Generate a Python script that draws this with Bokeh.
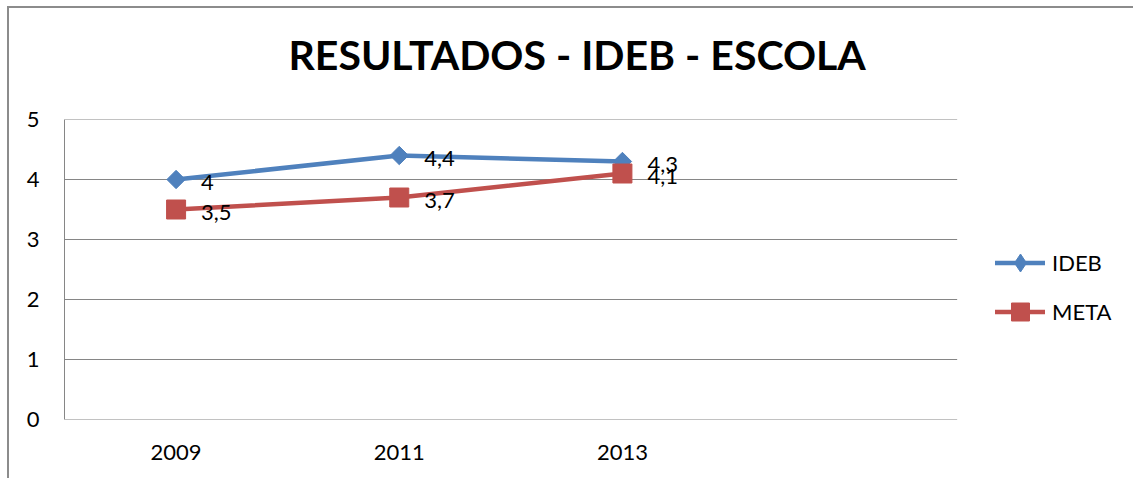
from bokeh.plotting import figure
from bokeh.models import (Range1d, FixedTicker, ColumnDataSource, LabelSet,
                          Legend, LegendItem, Title)
from bokeh.embed import file_html
from bokeh.resources import INLINE
from bokeh.core.properties import value

# ---- data ----
years = ["2009", "2011", "2013"]
ideb = [4.0, 4.4, 4.3]
meta = [3.5, 3.7, 4.1]
y_ticks = [0, 1, 2, 3, 4, 5]
n_slots = 4            # Excel category axis has one empty slot after 2013

def fmt(v):
    s = ("%g" % v)
    return s.replace(".", ",")

xs = list(range(len(years)))
src_ideb = ColumnDataSource(dict(x=xs, y=ideb, t=[fmt(v) for v in ideb]))
src_meta = ColumnDataSource(dict(x=xs, y=meta, t=[fmt(v) for v in meta]))
src_grid = ColumnDataSource(dict(x0=[-0.5] * len(y_ticks),
                                 x1=[n_slots - 0.5] * len(y_ticks),
                                 y=y_ticks))

BLUE = "#4F81BD"
RED = "#C0504D"
GRAY = "#868686"
FONT = "Lato"

# layout (pixels)
W, H = 1126, 472
LEFT, TOP, BOTTOM = 55, 111, 61
frame_w = (W - 2) - LEFT
slot_px = 891 / n_slots
x_end = -0.5 + frame_w / slot_px

p = figure(width=W, height=H, output_backend="svg", toolbar_location=None,
           x_range=Range1d(-0.5, x_end), y_range=Range1d(0, 5),
           min_border_left=LEFT, min_border_right=0, min_border_top=TOP,
           min_border_bottom=BOTTOM)
p.styles = {"margin-left": "7px", "margin-top": "6px",
            "border-left": "2px solid #8c8c8c", "border-top": "2px solid #8c8c8c"}

# spacer between title and frame, then the title itself
p.add_layout(Title(text=" ", text_font_size="1px", standoff=38), "above")
p.add_layout(Title(text="RESULTADOS - IDEB - ESCOLA", text_font=FONT,
                   text_font_size="41px", text_font_style="bold",
                   text_color="black", align="left", offset=224, standoff=0),
             "above")

p.outline_line_color = None
p.background_fill_color = "white"
p.border_fill_color = "white"

# axes
p.xaxis.ticker = FixedTicker(ticks=xs)
p.xaxis.major_label_overrides = {i: y for i, y in enumerate(years)}
p.yaxis.ticker = FixedTicker(ticks=y_ticks)
for ax in (p.xaxis, p.yaxis):
    ax.axis_line_color = GRAY
    ax.axis_line_width = 1
    ax.major_tick_line_color = None
    ax.minor_tick_line_color = None
    ax.major_tick_out = 0
    ax.major_tick_in = 0
    ax.major_label_text_font = FONT
    ax.major_label_text_font_size = "22px"
    ax.major_label_text_color = "black"
p.xaxis.axis_line_color = None
p.xaxis.major_label_standoff = 25
p.yaxis.major_label_standoff = 25

p.xgrid.grid_line_color = None
p.ygrid.grid_line_color = None
p.segment(x0="x0", x1="x1", y0="y", y1="y", source=src_grid,
          line_color=GRAY, line_width=1)

# series
l1 = p.line("x", "y", source=src_ideb, line_color=BLUE, line_width=4.5,
            line_join="round", line_cap="round")
m1 = p.scatter("x", "y", source=src_ideb, marker="square", size=13, angle=0.785398,
               fill_color=BLUE, line_color=BLUE)
l2 = p.line("x", "y", source=src_meta, line_color=RED, line_width=4.5,
            line_join="round", line_cap="round")
m2 = p.scatter("x", "y", source=src_meta, marker="square", size=19,
               fill_color=RED, line_color=RED)
# diamond used only for the legend swatch (hidden in the plot)
leg_d = p.scatter("x", "y", source=src_ideb, marker="diamond", size=13,
                  fill_color=BLUE, line_color=BLUE, visible=False)

for src in (src_ideb, src_meta):
    p.add_layout(LabelSet(x="x", y="y", text="t", source=src, x_offset=25, y_offset=-3,
                          text_font=value(FONT), text_font_size="22px",
                          text_baseline="middle", text_align="left",
                          text_color="black"))

legend = Legend(items=[LegendItem(label="IDEB", renderers=[l1, leg_d]),
                       LegendItem(label="META", renderers=[l2, m2])],
                location=(931, 85), orientation="vertical",
                glyph_width=50, glyph_height=45, label_height=20,
                spacing=4, padding=0, margin=0, label_standoff=7,
                border_line_color=None, background_fill_alpha=0,
                inactive_fill_alpha=0,
                label_text_font=FONT, label_text_font_size="22px",
                label_text_color="black")
p.add_layout(legend, "center")

open("out.html", "w").write(file_html(p, INLINE))
